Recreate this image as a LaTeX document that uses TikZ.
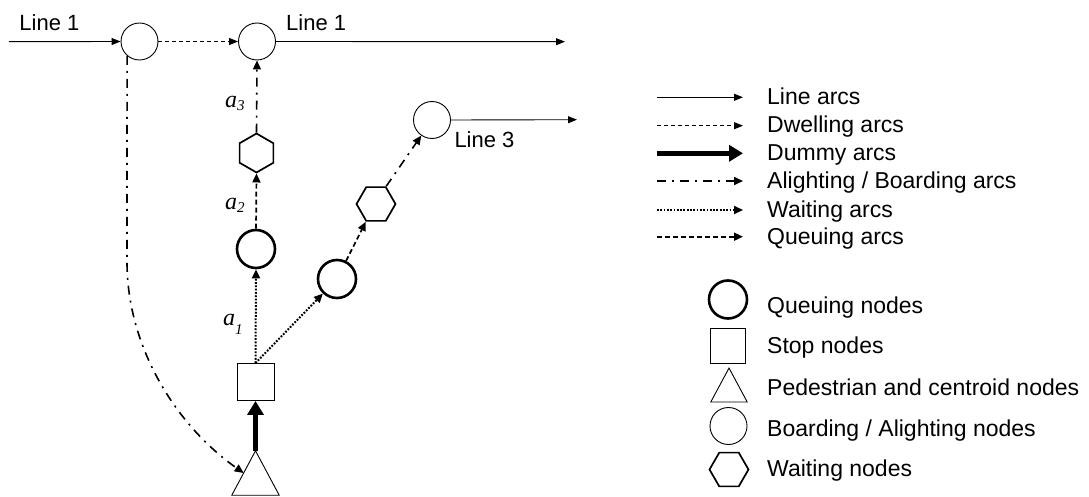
\documentclass[tikz,border=0pt]{standalone}
\usepackage{fontspec}
\setmainfont{Liberation Sans}
\newfontfamily\tnr{Liberation Serif}
\usetikzlibrary{shapes.geometric,arrows.meta,calc}
\begin{document}
\begin{tikzpicture}[x=1pt,y=-1pt,
  board/.style={circle,draw,line width=0.9pt,minimum size=37pt,inner sep=0pt},
  queue/.style={circle,draw,line width=2.6pt,minimum size=38pt,inner sep=0pt},
  stopbox/.style={rectangle,draw,line width=0.9pt,minimum size=37pt,inner sep=0pt},
  waitnode/.style={regular polygon,regular polygon sides=6,draw,line width=1.7pt,minimum size=39pt,inner sep=0pt},
  trinode/.style={inner sep=0pt},
  tri/.style={line width=0.9pt},
  txt/.style={font=\fontsize{22}{26}\selectfont,inner sep=0pt,anchor=base west},
  legtxt/.style={font=\fontsize{23}{27}\selectfont,inner sep=0pt,anchor=base west},
  alab/.style={font=\tnr\itshape\fontsize{24}{26}\selectfont,inner sep=0pt,anchor=base west},
  linearc/.style={line width=0.9pt,-{Triangle[length=9pt,width=7pt]}},
  dwellarc/.style={line width=0.9pt,dash pattern=on 4pt off 3pt,-{Triangle[length=9pt,width=7pt]}},
  dummyarc/.style={line width=4.5pt,-{Triangle[length=14pt,width=16pt]}},
  alightarc/.style={line width=1.6pt,dash pattern=on 9pt off 6pt on 2pt off 6pt,-{Triangle[length=9pt,width=8pt]}},
  waitarc/.style={line width=2pt,dash pattern=on 1.8pt off 1.5pt,-{Triangle[length=9pt,width=8pt]}},
  queuearc/.style={line width=1.7pt,dash pattern=on 5pt off 3pt,-{Triangle[length=9pt,width=8pt]}},
]
\useasboundingbox (0,0) rectangle (1089,497);

% network nodes
\node[board] (A) at (139.5,41.5) {};
\node[board] (B) at (257,41.5) {};
\node[board] (C) at (432,120) {};
\node[waitnode,shape border rotate=30] (H1) at (256.5,153) {};
\node[waitnode] (H2) at (376,204) {};
\node[queue] (Q1) at (256,249) {};
\node[queue] (Q2) at (337,279) {};
\node[stopbox] (S) at (255.5,382) {};
\node[trinode,minimum width=47pt,minimum height=44pt] (T) at (255.5,473) {};
\draw[tri] (T.north) -- (T.south west) -- (T.south east) -- cycle;

\coordinate (L1s) at (9,41.7);
\coordinate (L1e) at (565,41.7);
\coordinate (L3e) at (577,119.7);

% labels
\node[txt] (l1a) at (19.3,30.7) {Line 1};
\node[txt] (l1b) at (286,30.7) {Line 1};
\node[txt] (l3) at (454.3,147.3) {Line 3};
\node[alab] (a3) at (225,107.3) {a\raisebox{-3pt}{\fontsize{15}{15}\selectfont 3}};
\node[alab] (a2) at (225,209) {a\raisebox{-3pt}{\fontsize{15}{15}\selectfont 2}};
\node[alab] (a1) at (223,325) {a\raisebox{-9pt}{\fontsize{15}{15}\selectfont 1}};

% connectors
\draw[linearc] (L1s) -- (A.west);
\draw[dwellarc] (A) -- (B);
\draw[linearc] (B.east) -- (L1e);
\draw[linearc] (C.east) -- (L3e);
\draw[alightarc] (H1.north) -- (B.south);
\draw[queuearc] (Q1.north) -- (H1.south);
\draw[waitarc] (S.north) -- (Q1.south);
\draw[waitarc] (S.north) -- (Q2);
\draw[queuearc] (Q2) -- (H2.240);
\draw[alightarc] (H2.60) -- (C);
\draw[dummyarc] (T.north) -- (S.south);
\draw[alightarc] (A.229) -- (127,262) .. controls (127,346) and (175,424.7) .. ($(T.north)!0.5!(T.south west)$);

% legend arcs
\coordinate (k1s) at (657,97.3);  \coordinate (k1e) at (743,97.3);
\coordinate (k2s) at (657,125.7); \coordinate (k2e) at (743,125.7);
\coordinate (k3s) at (657,153.3); \coordinate (k3e) at (743,153.3);
\coordinate (k4s) at (657,181);   \coordinate (k4e) at (743,181);
\coordinate (k5s) at (657,210);   \coordinate (k5e) at (743,210);
\coordinate (k6s) at (657,236.7); \coordinate (k6e) at (743,236.7);
\draw[linearc] (k1s) -- (k1e);
\draw[dwellarc] (k2s) -- (k2e);
\draw[dummyarc] (k3s) -- (k3e);
\draw[alightarc] (k4s) -- (k4e);
\draw[waitarc] (k5s) -- (k5e);
\draw[queuearc] (k6s) -- (k6e);
\node[legtxt] (t1) at (767,104.7) {Line arcs};
\node[legtxt] (t2) at (767,133) {Dwelling arcs};
\node[legtxt] (t3) at (767,160.7) {Dummy arcs};
\node[legtxt] (t4) at (767,188.5) {Alighting / Boarding arcs};
\node[legtxt] (t5) at (767,217.5) {Waiting arcs};
\node[legtxt] (t6) at (767,244) {Queuing arcs};

% legend nodes
\node[queue] (lq) at (728,299.5) {};
\node[stopbox,minimum size=35pt] (ls) at (728,345.5) {};
\node[trinode,minimum width=36pt,minimum height=33.5pt] (lt) at (729,385) {};
\draw[tri] (lt.north) -- (lt.south west) -- (lt.south east) -- cycle;
\node[board] (lb) at (728.5,426) {};
\node[waitnode] (lh) at (729,469.5) {};
\node[legtxt] (n1) at (767,313.3) {Queuing nodes};
\node[legtxt] (n2) at (767,353.3) {Stop nodes};
\node[legtxt] (n3) at (767,395) {Pedestrian and centroid nodes};
\node[legtxt] (n4) at (767,436.7) {Boarding / Alighting nodes};
\node[legtxt] (n5) at (767,476.7) {Waiting nodes};
\end{tikzpicture}
\end{document}
